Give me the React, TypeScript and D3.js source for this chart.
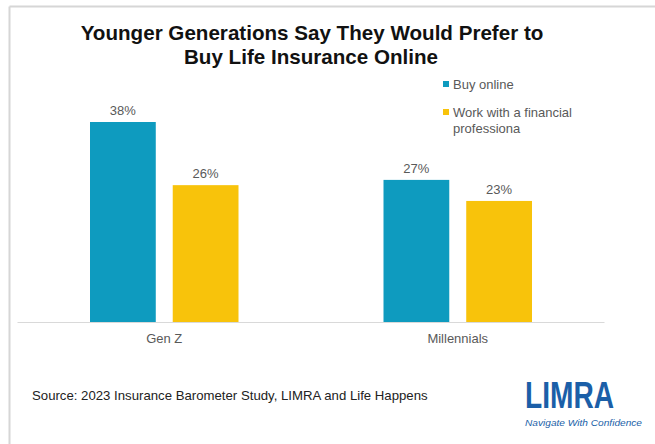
import React from "react";
import * as d3 from "d3";

const categories = ["Gen Z", "Millennials"];
const seriesNames = ["Buy online", "Work with a financial professiona"];
const buyOnline = [38, 27];
const workWithPro = [26, 23];
const colors = ["#0E9BBF", "#F8C30B"];

const W = 655;
const H = 444;

export default function App() {
  const values = [buyOnline, workWithPro];
  const x = d3.scaleBand<string>().domain(categories).range([17.5, 604.5]).paddingInner(0).paddingOuter(0);
  const inner = d3
    .scaleBand<string>()
    .domain(seriesNames)
    .range([72.5, x.bandwidth() - 72.5])
    .paddingInner(0.205)
    .paddingOuter(0);
  const y = d3.scaleLinear().domain([0, 38]).range([322, 122]);
  const font = "Liberation Sans, Arial, sans-serif";

  return (
    <div style={{ position: "absolute", left: 0, top: 0 }}>
      <svg width={W} height={H} style={{ display: "block", background: "#fff" }}>
        <line x1={9.5} x2={W} y1={6.5} y2={6.5} stroke="#d6d6d6" strokeWidth={2} />
        <line x1={9.5} x2={9.5} y1={6.5} y2={H} stroke="#d6d6d6" strokeWidth={2} />
        <text x={312} y={40} textAnchor="middle" fontFamily={font} fontWeight="bold" fontSize={20.6} fill="#111">
          Younger Generations Say They Would Prefer to
        </text>
        <text x={311} y={64} textAnchor="middle" fontFamily={font} fontWeight="bold" fontSize={20.6} fill="#111">
          Buy Life Insurance Online
        </text>
        {/* legend */}
        <g fontFamily={font} fontSize={13} fill="#595959">
          <rect x={443} y={81} width={6} height={6} fill={colors[0]} />
          <text x={453} y={89}>Buy online</text>
          <rect x={443} y={109} width={6} height={6} fill={colors[1]} />
          <text x={453} y={117}>Work with a financial</text>
          <text x={453} y={133}>professiona</text>
        </g>
        {/* bars */}
        {categories.map((c, ci) => (
          <g key={c} transform={`translate(${x(c)},0)`}>
            {seriesNames.map((s, si) => {
              const v = values[si][ci];
              const bx = inner(s)!;
              return (
                <g key={s}>
                  <rect x={bx} y={y(v)} width={inner.bandwidth()} height={y(0) - y(v)} fill={colors[si]} />
                  <text
                    x={bx + inner.bandwidth() / 2}
                    y={y(v) - 7}
                    textAnchor="middle"
                    fontFamily={font}
                    fontSize={13}
                    fill="#595959"
                  >
                    {v}%
                  </text>
                </g>
              );
            })}
            <text x={x.bandwidth() / 2} y={343} textAnchor="middle" fontFamily={font} fontSize={13} fill="#595959">
              {c}
            </text>
          </g>
        ))}
        <line x1={17.5} x2={604.5} y1={322.5} y2={322.5} stroke="#d9d9d9" strokeWidth={1} />
        <text x={32} y={400} fontFamily={font} fontSize={13.2} fill="#222">
          Source: 2023 Insurance Barometer Study, LIMRA and Life Happens
        </text>
        {/* logo */}
        <text x={525} y={408} fontFamily={font} fontWeight="bold" fontSize={36} fill="#1B5FA8" textLength={89} lengthAdjust="spacingAndGlyphs">
          LIMRA
        </text>
        <text x={525} y={426} fontFamily={font} fontStyle="italic" fontSize={9} fill="#1B5FA8" textLength={117} lengthAdjust="spacingAndGlyphs">
          Navigate With Confidence
        </text>
      </svg>
    </div>
  );
}
